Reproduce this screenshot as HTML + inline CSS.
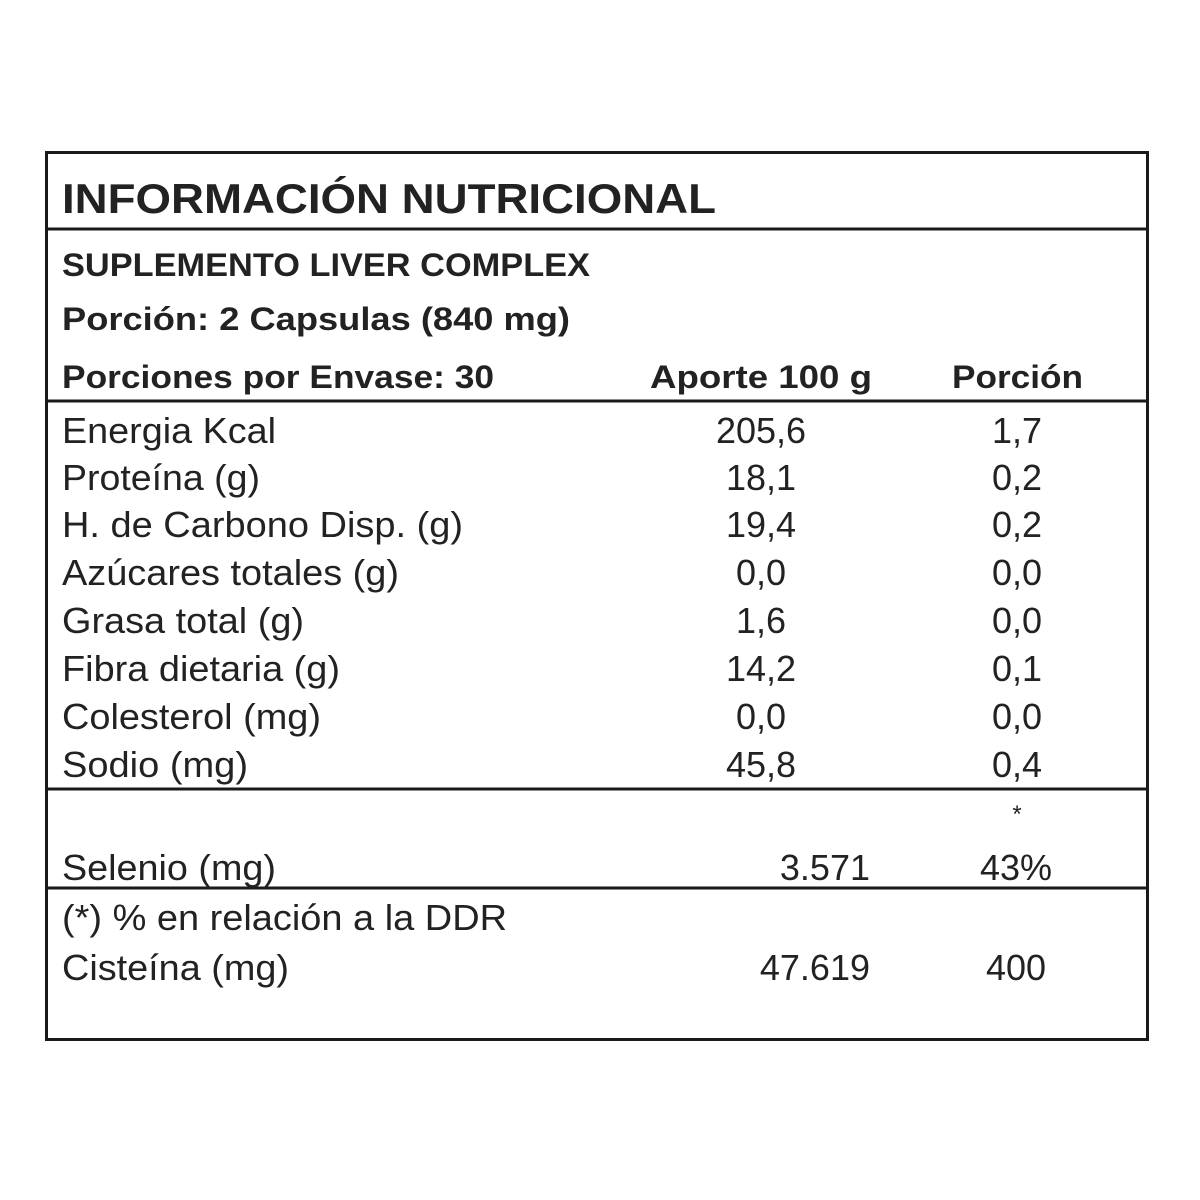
<!DOCTYPE html>
<html><head><meta charset="utf-8"><style>body{margin:0;background:#fff}svg{display:block}</style></head>
<body>
<svg width="1200" height="1200" viewBox="0 0 1200 1200" xmlns="http://www.w3.org/2000/svg">
<rect width="1200" height="1200" fill="#fff"/>
<g fill="none" stroke="#1a1a1a" stroke-width="3">
<rect x="46.5" y="152.5" width="1101" height="887"/>
<line x1="46" y1="229" x2="1148" y2="229"/>
<line x1="46" y1="401" x2="1148" y2="401"/>
<line x1="46" y1="789" x2="1148" y2="789"/>
<line x1="46" y1="888" x2="1148" y2="888"/>
</g>
<g font-family="Liberation Sans, sans-serif" fill="#222">
<g font-weight="bold">
<text x="62" y="213" font-size="42" textLength="654" lengthAdjust="spacingAndGlyphs">INFORMACIÓN NUTRICIONAL</text>
<text x="62" y="276" font-size="32" textLength="528" lengthAdjust="spacingAndGlyphs">SUPLEMENTO LIVER COMPLEX</text>
<text x="62" y="330" font-size="32" textLength="508" lengthAdjust="spacingAndGlyphs">Porción:  2 Capsulas (840 mg)</text>
<text x="62" y="388" font-size="32" textLength="432" lengthAdjust="spacingAndGlyphs">Porciones por Envase: 30</text>
<text x="650" y="388" font-size="32" textLength="222" lengthAdjust="spacingAndGlyphs">Aporte 100 g</text>
<text x="952" y="388" font-size="32" textLength="131" lengthAdjust="spacingAndGlyphs">Porción</text>
</g>
<g font-size="36" lengthAdjust="spacingAndGlyphs">
<text x="62" y="443" textLength="214" lengthAdjust="spacingAndGlyphs">Energia Kcal</text>
<text x="62" y="490" textLength="198" lengthAdjust="spacingAndGlyphs">Proteína (g)</text>
<text x="62" y="537" textLength="401" lengthAdjust="spacingAndGlyphs">H. de Carbono Disp. (g)</text>
<text x="62" y="585" textLength="337" lengthAdjust="spacingAndGlyphs">Azúcares totales (g)</text>
<text x="62" y="633" textLength="242" lengthAdjust="spacingAndGlyphs">Grasa total (g)</text>
<text x="62" y="681" textLength="278" lengthAdjust="spacingAndGlyphs">Fibra dietaria (g)</text>
<text x="62" y="729" textLength="259" lengthAdjust="spacingAndGlyphs">Colesterol (mg)</text>
<text x="62" y="777" textLength="186" lengthAdjust="spacingAndGlyphs">Sodio (mg)</text>
<text x="62" y="880" textLength="214" lengthAdjust="spacingAndGlyphs">Selenio (mg)</text>
<text x="62" y="930" textLength="445" lengthAdjust="spacingAndGlyphs">(*) % en relación a la DDR</text>
<text x="62" y="980" textLength="227" lengthAdjust="spacingAndGlyphs">Cisteína (mg)</text>
<g text-anchor="middle">
<text x="761" y="443">205,6</text><text x="1017" y="443">1,7</text>
<text x="761" y="490">18,1</text><text x="1017" y="490">0,2</text>
<text x="761" y="537">19,4</text><text x="1017" y="537">0,2</text>
<text x="761" y="585">0,0</text><text x="1017" y="585">0,0</text>
<text x="761" y="633">1,6</text><text x="1017" y="633">0,0</text>
<text x="761" y="681">14,2</text><text x="1017" y="681">0,1</text>
<text x="761" y="729">0,0</text><text x="1017" y="729">0,0</text>
<text x="761" y="777">45,8</text><text x="1017" y="777">0,4</text>
<text x="1017" y="822" font-size="24">*</text>
<text x="1016" y="880">43%</text>
<text x="1016" y="980">400</text>
</g>
<g text-anchor="end">
<text x="870" y="880">3.571</text>
<text x="870" y="980">47.619</text>
</g>
</g>
</g>
</svg>
</body></html>
